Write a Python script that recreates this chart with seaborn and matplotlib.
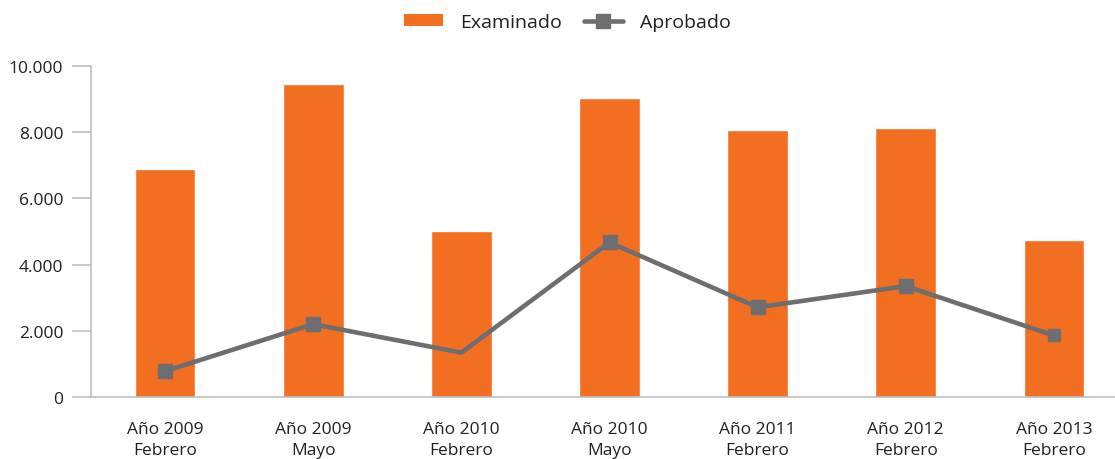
import numpy as np
import pandas as pd
import seaborn as sns
import matplotlib.pyplot as plt
from matplotlib.lines import Line2D
from matplotlib.patches import Patch
from matplotlib.ticker import FuncFormatter

sns.set_theme(style="white")
plt.rcParams["font.family"] = ["Open Sans", "DejaVu Sans"]

periodos = ["Año 2009\nFebrero", "Año 2009\nMayo", "Año 2010\nFebrero",
            "Año 2010\nMayo", "Año 2011\nFebrero", "Año 2012\nFebrero",
            "Año 2013\nFebrero"]
examinado = [6900, 9450, 5030, 9030, 8060, 8120, 4730]
aprobado = [780, 2200, 1340, 4670, 2710, 3350, 1860]

orange = "#F26F21"
gray = "#6D6E71"
axis_gray = "#BDBDBD"

df = pd.DataFrame({"periodo": periodos, "examinado": examinado,
                   "aprobado": aprobado})

fig = plt.figure(figsize=(11.15, 4.6), dpi=100)
ax = fig.add_axes([91 / 1115, 1 - 398 / 460, (1128 - 91) / 1115,
                   (398 - 67) / 460])

sns.barplot(x="periodo", y="examinado", data=df, color=orange,
            width=0.41, saturation=1, ax=ax)
pos = np.arange(len(periodos))
ax.plot(pos, df["aprobado"], color=gray, lw=3.3, marker="s", ms=10.5,
        markevery=[0, 1, 3, 4, 5], solid_joinstyle="miter", zorder=3)
# last point has a smaller marker in the original
ax.plot(pos[-1:], df["aprobado"].iloc[-1:], ls="none", color=gray,
        marker="s", ms=8, zorder=3)

ax.set_xlim(-0.5, len(periodos) - 0.5)
ax.set_ylim(0, 10000)
ax.set_yticks(range(0, 10001, 2000))
ax.yaxis.set_major_formatter(
    FuncFormatter(lambda v, p: f"{int(v):,}".replace(",", ".")))
ax.set_xlabel("")
ax.set_ylabel("")

for s in ["top", "right"]:
    ax.spines[s].set_visible(False)
for s in ["left", "bottom"]:
    ax.spines[s].set_color(axis_gray)
    ax.spines[s].set_linewidth(1.2)

ax.set_xticks(np.arange(-0.5, len(periodos)), minor=True)
ax.tick_params(axis="x", which="major", length=0, pad=17,
               labelsize=12.5, labelcolor="#231F20")
ax.tick_params(axis="x", which="minor", length=11, width=1.2,
               color=axis_gray, direction="out")
ax.tick_params(axis="y", length=14, width=1.2, color=axis_gray, pad=6,
               labelsize=12.5, labelcolor="#231F20", left=True)
for lab in ax.get_xticklabels():
    lab.set_linespacing(1.45)

handles = [Patch(facecolor=orange, edgecolor="none"),
           Line2D([], [], color=gray, lw=3.3, marker="s", ms=10.5)]
fig.legend(handles, ["Examinado", "Aprobado"], loc="center",
           bbox_to_anchor=(0.509, 1 - 23 / 460), ncol=2, frameon=False,
           fontsize=14, handlelength=2.0, handleheight=0.55,
           columnspacing=1.1, handletextpad=0.9,
           labelcolor="#231F20")

fig.savefig("out.png", dpi=100)
